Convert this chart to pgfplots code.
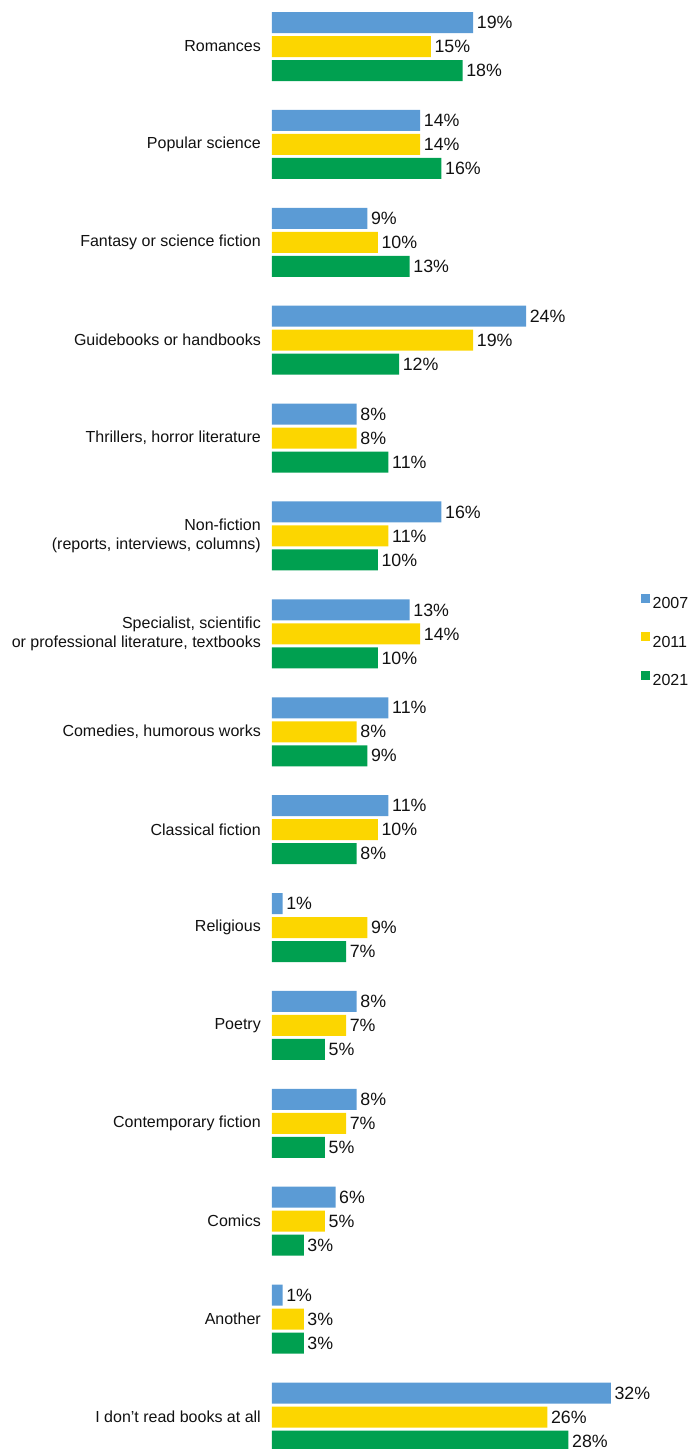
\documentclass[border=0pt]{standalone}
\usepackage{pgfplots}
\pgfplotsset{compat=1.18}
\usepackage{fontspec}
\setmainfont{Liberation Sans}
\definecolor{c07}{HTML}{5B9BD5}
\definecolor{c11}{HTML}{FCD600}
\definecolor{c21}{HTML}{00A050}
\definecolor{txt}{HTML}{111111}
\begin{document}
\begin{tikzpicture}
\useasboundingbox (0,0) rectangle (691pt,-1449pt);
\begin{axis}[
  at={(272pt,0pt)}, anchor=north west,
  scale only axis, width=419pt, height=1449pt,
  xmin=0, xmax=39.57, ymin=-0.475, ymax=14.327,
  y dir=reverse,
  axis line style={draw=none},
  major tick length=0pt,
  xtick=\empty,
  ytick={0,...,14},
  yticklabels={Romances, Popular science, Fantasy or science fiction, Guidebooks or handbooks, {Thrillers, horror literature}, {Non-fiction\\(reports, interviews, columns)}, {Specialist, scientific\\or professional literature, textbooks}, {Comedies, humorous works}, Classical fiction, Religious, Poetry, Contemporary fiction, Comics, Another, I don't read books at all},
  yticklabel style={align=right, font=\fontsize{16pt}{18.5pt}\selectfont, text=txt, inner sep=0pt, xshift=-11pt},
  xbar, bar width=21pt,
  point meta=x,
  /pgf/number format/assume math mode=true,
  nodes near coords={\pgfmathprintnumber{\pgfplotspointmeta}\%},
  every node near coord/.append style={anchor=west, inner sep=0pt, xshift=3.5pt, font=\fontsize{17.8pt}{20pt}\selectfont, text=txt},
  legend style={at={(0.8807,0.5576)}, anchor=west, draw=none, fill=none, inner sep=0pt, outer sep=0pt, row sep=20.5pt,
    nodes={inner sep=0pt, text height=12pt, text depth=3pt, font=\fontsize{16pt}{19pt}\selectfont, text=txt}},
  legend cell align=left,
  legend image code/.code={\fill[#1, draw=none] (0pt,1.5pt) rectangle (9pt,10.5pt);},
]
\addplot[fill=c07, draw=none, bar shift=24pt] coordinates {
(19,0) (14,1) (9,2) (24,3) (8,4) (16,5) (13,6) (11,7) (11,8) (1,9) (8,10) (8,11) (6,12) (1,13) (32,14)};
\addplot[fill=c11, draw=none, bar shift=0pt] coordinates {
(15,0) (14,1) (10,2) (19,3) (8,4) (11,5) (14,6) (8,7) (10,8) (9,9) (7,10) (7,11) (5,12) (3,13) (26,14)};
\addplot[fill=c21, draw=none, bar shift=-24pt] coordinates {
(18,0) (16,1) (13,2) (12,3) (11,4) (10,5) (10,6) (9,7) (8,8) (7,9) (5,10) (5,11) (3,12) (3,13) (28,14)};
\legend{\,2007, \,2011, \,2021}
\end{axis}
\end{tikzpicture}
\end{document}
